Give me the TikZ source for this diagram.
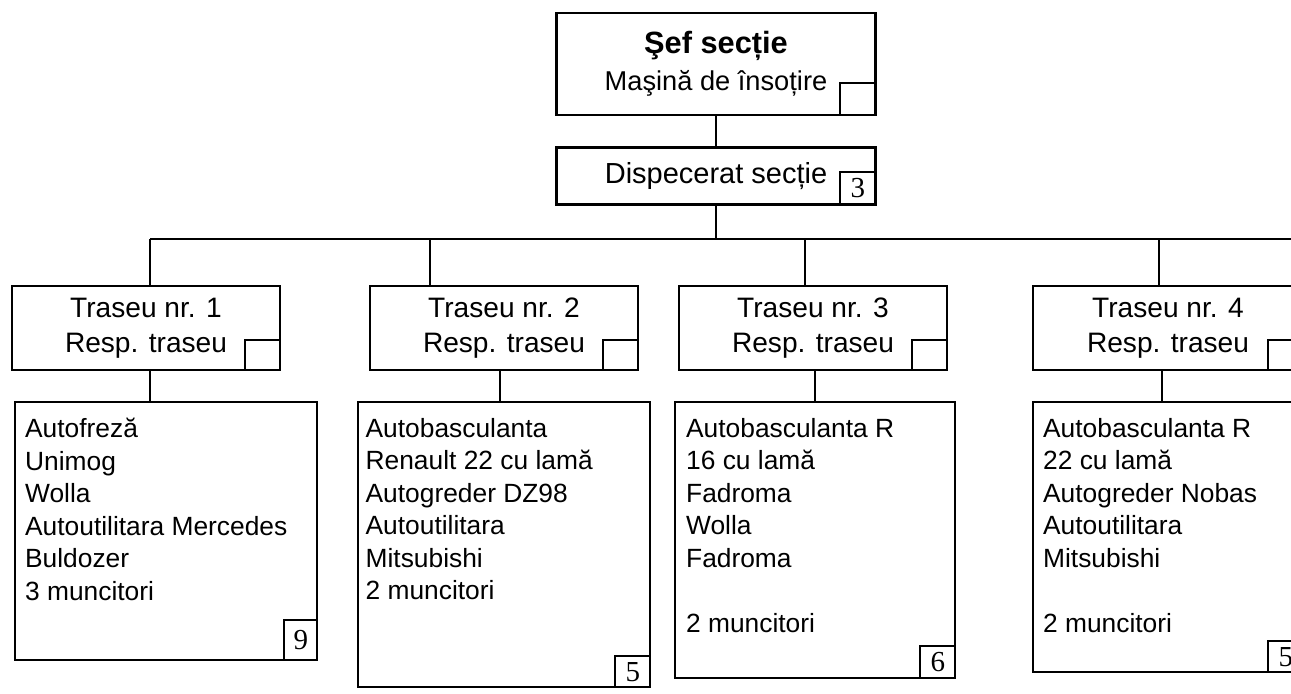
\documentclass[tikz,border=0pt]{standalone}
\usepackage{fontspec}
\setmainfont{Liberation Sans}
\newfontfamily\numfont{Liberation Serif}
\usetikzlibrary{positioning}

\begin{document}
\begin{tikzpicture}[x=0.02cm, y=-0.02cm,
    box/.style={draw, line width=1.4pt, inner sep=0pt, align=center},
    tracebox/.style={box, minimum width=5.36cm, minimum height=1.68cm, font=\fontsize{16}{19.9}\selectfont},
    listbox/.style={draw, line width=1.4pt, inner sep=0pt},
    listtext/.style={anchor=north west, inner sep=0pt, align=left, font=\fontsize{15}{18.5}\selectfont},
    numbox/.style={draw, line width=1pt, anchor=south east, inner sep=0pt, minimum width=0.7cm, minimum height=0.6cm, font=\numfont\fontsize{16.5}{16.5}\selectfont},
    link/.style={line width=1.1pt}]

% Page frame
\path[use as bounding box, fill=white] (0,0) rectangle (1291,693);
\clip (0,0) rectangle (1291,693);

% Head of section
\node[box, minimum width=6.38cm, minimum height=2.04cm, font=\fontsize{15.5}{21}\selectfont] (sef) at (716, 64) {{\bfseries\fontsize{17.5}{21}\selectfont Şef secție}\\Maşină de însoțire};
\node[numbox, minimum width=0.72cm, minimum height=0.64cm] (sefsq) at (sef.south east) {};

% Dispatcher
\node[box, minimum width=6.38cm, minimum height=1.14cm, font=\fontsize{16.5}{20}\selectfont] (disp) at (716, 176) {Dispecerat secție};
\node[numbox, minimum width=0.72cm, minimum height=0.66cm] (dispsq) at (disp.south east) {3};

\draw[link] (sef) -- (disp);

% Bus
\coordinate (bus) at (716, 239);
\coordinate (busL) at (150, 239);
\coordinate (busR) at (1300, 239);
\draw[link] (disp) -- (bus);
\draw[link] (busL) -- (busR);

% Routes
\node[tracebox] (t1) at (146, 328) {Traseu nr. 1\\Resp. traseu};
\node[tracebox] (t2) at (504, 328) {Traseu nr. 2\\Resp. traseu};
\node[tracebox] (t3) at (813, 328) {Traseu nr. 3\\Resp. traseu};
\node[tracebox, minimum width=5.4cm] (t4) at (1168, 328) {Traseu nr. 4\\Resp. traseu};
\foreach \name in {t1, t2, t3, t4}
    \node[numbox] (\name sq) at (\name.south east) {};

\foreach \name/\x in {t1/150, t2/430, t3/805, t4/1159} {
    \coordinate (drop-\name) at (\x, 239);
    \draw[link] (drop-\name) -- (drop-\name |- \name.north);
}

% Equipment lists
\node[listbox, minimum width=6.04cm, minimum height=5.16cm] (l1) at (166, 531) {};
\node[listtext] (l1t) at ([xshift=0.22cm, yshift=-0.34cm]l1.north west) {Autofreză\\Unimog\\Wolla\\Autoutilitara Mercedes\\Buldozer\\3 muncitori};
\node[numbox, minimum width=0.66cm, minimum height=0.8cm] (l1sq) at (l1.south east) {9};

\node[listbox, minimum width=5.84cm, minimum height=5.7cm] (l2) at (504, 544.5) {};
\node[listtext] (l2t) at ([xshift=0.17cm, yshift=-0.34cm]l2.north west) {Autobasculanta\\Renault 22 cu lamă\\Autogreder DZ98\\Autoutilitara\\Mitsubishi\\2 muncitori};
\node[numbox, minimum height=0.62cm] (l2sq) at (l2.south east) {5};

\node[listbox, minimum width=5.6cm, minimum height=5.52cm] (l3) at (815, 540) {};
\node[listtext] (l3t) at ([xshift=0.24cm, yshift=-0.34cm]l3.north west) {Autobasculanta R\\16 cu lamă\\Fadroma\\Wolla\\Fadroma\\[18.5pt]2 muncitori};
\node[numbox, minimum height=0.64cm] (l3sq) at (l3.south east) {6};

\node[listbox, minimum width=5.4cm, minimum height=5.4cm] (l4) at (1168, 537) {};
\node[listtext] (l4t) at ([xshift=0.22cm, yshift=-0.34cm]l4.north west) {Autobasculanta R\\22 cu lamă\\Autogreder Nobas\\Autoutilitara\\Mitsubishi\\[18.5pt]2 muncitori};
\node[numbox, minimum height=0.62cm] (l4sq) at (l4.south east) {5};

\foreach \up/\down/\x in {t1/l1/150, t2/l2/500, t3/l3/815, t4/l4/1162} {
    \coordinate (join) at (\x, 0);
    \draw[link] (join |- \up.south) -- (join |- \down.north);
}

\end{tikzpicture}
\end{document}
